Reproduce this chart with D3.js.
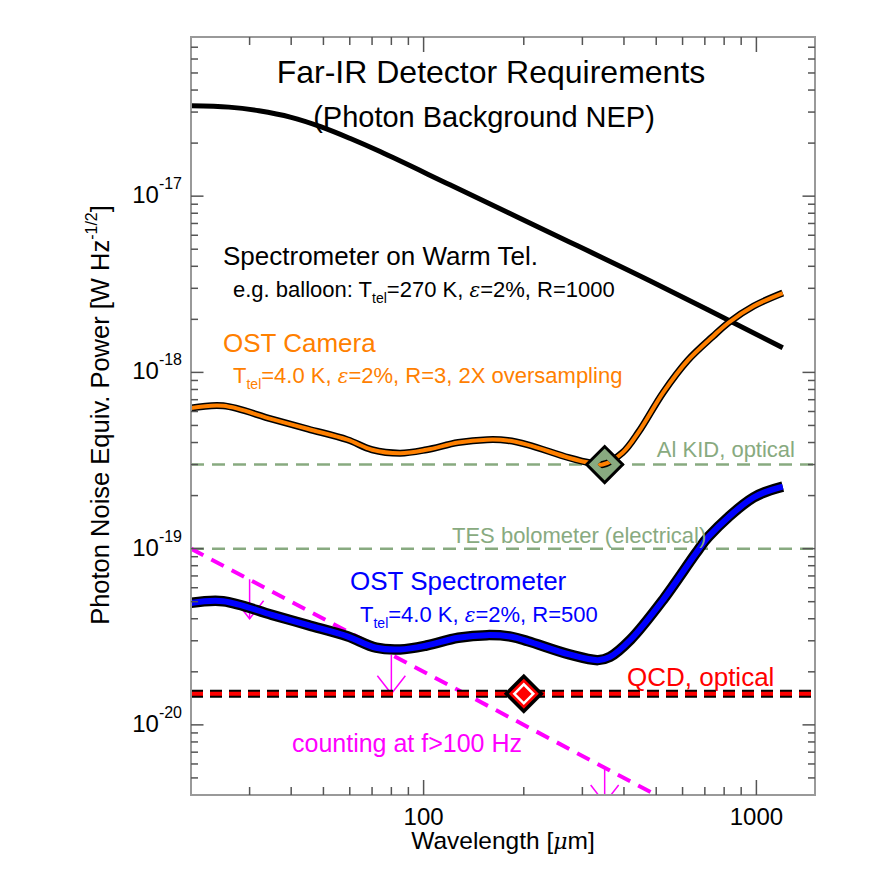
<!DOCTYPE html>
<html><head><meta charset="utf-8">
<script src="https://cdn.jsdelivr.net/npm/d3@7"></script>
<style>
body{margin:0;background:#fff}
svg{display:block}
text{font-family:"Liberation Sans",Arial,Helvetica,sans-serif}
</style>
</head><body>
<svg id="chart" width="872" height="872"></svg>
<script>
// ---------- data ----------
const warmLam = [20, 26, 32, 40, 49, 60, 74, 120, 240, 480, 1200];
const warmNEP = [3.26e-17, 3.20e-17, 3.05e-17, 2.80e-17, 2.48e-17, 2.13e-17, 1.79e-17, 1.16e-17, 6.2e-18, 3.3e-18, 1.38e-18];

const camLam = [20, 25, 35, 45, 59, 70, 85, 102, 127, 155, 179, 206, 273, 320, 345, 396, 443, 525, 622, 740, 826, 982, 1200];
const camNEP = [6.27e-19, 6.46e-19, 5.43e-19, 4.77e-19, 4.15e-19, 3.64e-19, 3.48e-19, 3.64e-19, 4.00e-19, 4.15e-19, 4.11e-19, 3.88e-19, 3.28e-19, 3.05e-19, 3.0e-19, 3.50e-19, 4.60e-19, 7.70e-19, 1.17e-18, 1.60e-18, 1.92e-18, 2.38e-18, 2.82e-18];

const specLam = [20, 25, 35, 45, 59, 72, 85, 102, 127, 155, 184, 206, 274, 334, 363, 419, 525, 659, 718, 980, 1200];
const specNEP = [4.92e-20, 5.03e-20, 4.21e-20, 3.68e-20, 3.18e-20, 2.74e-20, 2.68e-20, 2.82e-20, 3.12e-20, 3.23e-20, 3.16e-20, 2.98e-20, 2.51e-20, 2.33e-20, 2.43e-20, 3.05e-20, 5.14e-20, 9.45e-20, 1.17e-19, 1.95e-19, 2.25e-19];

const countLam = [20, 500];
const countNEP = [1.0e-19, 4.0e-21];

const arrowLam = [30, 80, 350];
const arrowTop = [6.7e-20, 2.5e-20, 5.7e-21];
const arrowTip = [4.0e-20, 1.5e-20, 3.6e-21];

const alKidNEP = 3e-19;
const tesNEP = 1e-19;
const qcdNEP = 1.5e-20;
const alKidPoint = [350, 3e-19];
const qcdPoint = [200, 1.5e-20];

const xMajorTicks = [100, 1000];
const yMajorExps = [-17, -18, -19, -20];

// ---------- setup ----------
const svg = d3.select("#chart");
const L = 191, R = 815, T = 37, B = 795;
const x = d3.scaleLog().domain([20, 1500]).range([L, R]);
const y = d3.scaleLog().domain([4e-21, 8e-17]).range([B, T]);

svg.append("defs").append("clipPath").attr("id", "clip")
  .append("rect").attr("x", L).attr("y", T).attr("width", R - L).attr("height", B - T);
const g = svg.append("g").attr("clip-path", "url(#clip)");

const line = d3.line().x(d => x(d[0])).y(d => y(d[1])).curve(d3.curveCatmullRom.alpha(0.5));
const zip = (a, b) => a.map((v, i) => [v, b[i]]);

const GREEN = "#88aa80", ORANGE = "#ff8000", BLUE = "#0000ff", RED = "#ff0000", MAG = "#ff00ff";

// horizontal reference lines
function hline(v, color, w, dash) {
  g.append("line").attr("x1", L).attr("x2", R).attr("y1", y(v)).attr("y2", y(v))
    .attr("stroke", color).attr("stroke-width", w).attr("stroke-dasharray", dash);
}
hline(alKidNEP, GREEN, 2.5, "13,8");
hline(tesNEP, GREEN, 2.5, "13,8");

// counting line
g.append("path").datum(zip(countLam, countNEP)).attr("d", d3.line().x(d => x(d[0])).y(d => y(d[1])))
  .attr("fill", "none").attr("stroke", MAG).attr("stroke-width", 4).attr("stroke-dasharray", "14,9");

// arrows
arrowLam.forEach((lam, i) => {
  const ax = x(lam), y0 = y(arrowTop[i]), y1 = y(arrowTip[i]);
  g.append("line").attr("x1", ax).attr("x2", ax).attr("y1", y0).attr("y2", y1)
    .attr("stroke", MAG).attr("stroke-width", 1.5);
  g.append("path").attr("d", `M${ax - 14},${y1 - 18}L${ax},${y1}L${ax + 14},${y1 - 18}`)
    .attr("fill", "none").attr("stroke", MAG).attr("stroke-width", 1.5);
});

// warm telescope
g.append("path").datum(zip(warmLam, warmNEP)).attr("d", line)
  .attr("fill", "none").attr("stroke", "#000").attr("stroke-width", 5);

// camera
const camD = line(zip(camLam, camNEP));
g.append("path").attr("d", camD).attr("fill", "none").attr("stroke", "#000").attr("stroke-width", 7);
g.append("path").attr("d", camD).attr("fill", "none").attr("stroke", ORANGE).attr("stroke-width", 4);

// spectrometer
const specD = line(zip(specLam, specNEP));
g.append("path").attr("d", specD).attr("fill", "none").attr("stroke", "#000").attr("stroke-width", 10.5);
g.append("path").attr("d", specD).attr("fill", "none").attr("stroke", BLUE).attr("stroke-width", 6);

// QCD line
hline(qcdNEP, "#000", 8, "12,7");
hline(qcdNEP, RED, 4, "12,7");

// diamonds
function diamond(cx, cy, r) { return `M${cx - r},${cy}L${cx},${cy - r}L${cx + r},${cy}L${cx},${cy + r}Z`; }
{
  const cx = x(alKidPoint[0]), cy = y(alKidPoint[1]);
  g.append("path").attr("d", diamond(cx, cy, 18)).attr("fill", GREEN).attr("stroke", "#000").attr("stroke-width", 3);
  svg.select("defs").append("clipPath").attr("id", "dclip").append("path").attr("d", diamond(cx, cy, 7));
  const sg = g.append("g").attr("clip-path", "url(#dclip)");
  sg.append("path").attr("d", camD).attr("fill", "none").attr("stroke", "#000").attr("stroke-width", 7);
  sg.append("path").attr("d", camD).attr("fill", "none").attr("stroke", ORANGE).attr("stroke-width", 4);
}
{
  const cx = x(qcdPoint[0]), cy = y(qcdPoint[1]);
  g.append("path").attr("d", diamond(cx, cy, 20)).attr("fill", "#000");
  g.append("path").attr("d", diamond(cx, cy, 15)).attr("fill", RED);
  g.append("path").attr("d", diamond(cx, cy, 9.5)).attr("fill", "none").attr("stroke", "#fff").attr("stroke-width", 2.5);
}

// ---------- frame and ticks ----------
svg.append("rect").attr("x", L).attr("y", T).attr("width", R - L).attr("height", B - T)
  .attr("fill", "none").attr("stroke", "#999").attr("stroke-width", 2);

const tickCol = "#555";
const isMajor = v => Math.abs(v / Math.pow(10, Math.round(Math.log10(v))) - 1) < 1e-6;
x.ticks().forEach(v => {
  const px = x(v), len = isMajor(v) ? 15 : 8;
  if (px <= L + 1 || px >= R - 1) return;
  svg.append("line").attr("x1", px).attr("x2", px).attr("y1", B).attr("y2", B - len).attr("stroke", tickCol).attr("stroke-width", 1.5);
  svg.append("line").attr("x1", px).attr("x2", px).attr("y1", T).attr("y2", T + len).attr("stroke", tickCol).attr("stroke-width", 1.5);
});
y.ticks().forEach(v => {
  const py = y(v), len = isMajor(v) ? 12.5 : 7;
  if (py <= T + 1 || py >= B - 1) return;
  svg.append("line").attr("x1", L).attr("x2", L + len).attr("y1", py).attr("y2", py).attr("stroke", tickCol).attr("stroke-width", 1.5);
  svg.append("line").attr("x1", R).attr("x2", R - len).attr("y1", py).attr("y2", py).attr("stroke", tickCol).attr("stroke-width", 1.5);
});

// tick labels
xMajorTicks.forEach(v => {
  svg.append("text").attr("x", x(v)).attr("y", 825).attr("text-anchor", "middle")
    .attr("font-size", 24).text(v);
});
yMajorExps.forEach(e => {
  const t = svg.append("text").attr("x", 182).attr("y", y(Math.pow(10, e)) + 7).attr("text-anchor", "end").attr("font-size", 24);
  t.append("tspan").text("10");
  t.append("tspan").attr("font-size", 16).attr("dy", -14).text(String(e));
});

// axis titles
svg.append("text").attr("x", 503).attr("y", 849).attr("text-anchor", "middle").attr("font-size", 24.5)
  .call(t => {
    t.append("tspan").text("Wavelength [");
    t.append("tspan").attr("font-family", "DejaVu Serif").attr("font-style", "italic").attr("font-size", 22).text("μ");
    t.append("tspan").text("m]");
  });
svg.append("text").attr("transform", "translate(109,415) rotate(-90)").attr("text-anchor", "middle").attr("font-size", 25.5)
  .call(t => {
    t.append("tspan").text("Photon Noise Equiv. Power [W Hz");
    t.append("tspan").attr("font-size", 16).attr("dy", -12).text("-1/2");
    t.append("tspan").attr("dy", 12).text("]");
  });

// ---------- annotations ----------
function txt(xp, yp, size, color, str, anchor) {
  return svg.append("text").attr("x", xp).attr("y", yp).attr("font-size", size).attr("fill", color)
    .attr("text-anchor", anchor || "start").text(str);
}
txt(491, 83, 32, "#000", "Far-IR Detector Requirements", "middle");
txt(484, 127, 29, "#000", "(Photon Background NEP)", "middle");
txt(223, 265, 26, "#000", "Spectrometer on Warm Tel.");
txt(223, 352, 26, ORANGE, "OST Camera");
txt(795, 457, 22, GREEN, "Al KID, optical", "end");
txt(452, 543, 22, GREEN, "TES bolometer (electrical)");
txt(350, 590, 26, BLUE, "OST Spectrometer");
txt(627, 686, 26, RED, "QCD, optical");
txt(292, 752, 25, MAG, "counting at f>100 Hz");

function paramText(xp, yp, color, pre, post) {
  const t = svg.append("text").attr("x", xp).attr("y", yp).attr("font-size", 22).attr("fill", color);
  t.append("tspan").text(pre + "T");
  t.append("tspan").attr("font-size", 14).attr("dy", 6).text("tel");
  t.append("tspan").attr("dy", -6).text(post[0]);
  t.append("tspan").attr("font-family", "DejaVu Serif").attr("font-style", "italic").attr("font-size", 20).text("ε");
  t.append("tspan").text(post[1]);
}
paramText(233, 297, "#000", "e.g. balloon: ", ["=270 K, ", "=2%, R=1000"]);
paramText(233, 383, ORANGE, "", ["=4.0 K, ", "=2%, R=3, 2X oversampling"]);
paramText(360, 622, BLUE, "", ["=4.0 K, ", "=2%, R=500"]);
</script>
</body></html>
